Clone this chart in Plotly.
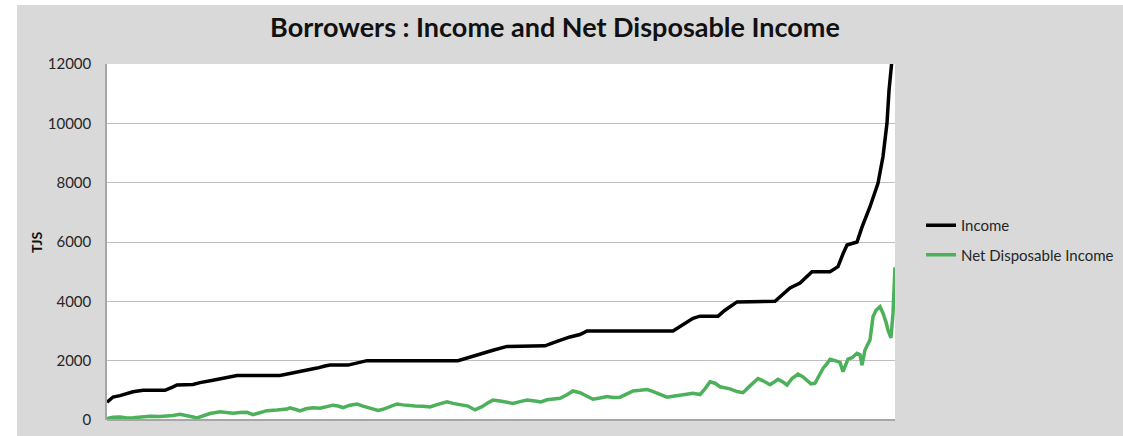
import plotly.graph_objects as go

# Borrowers sorted by income; rank is the borrower's position in that order.
income_rank = [0, 3, 6, 13, 20, 26, 36, 58, 65, 70, 86, 93, 106, 118, 126, 130,
               173, 183, 193, 203, 210, 218, 223, 241, 251, 260, 351, 361, 373,
               386, 400, 438, 450, 463, 473, 480, 566, 576, 586, 593, 611, 618,
               630, 668, 675, 683, 693, 699, 705, 723, 731, 736, 740, 750, 755,
               763, 771, 776, 780, 782, 785, 788]
income = [600, 700, 775, 820, 880, 950, 1000, 1000, 1100, 1180, 1200, 1260,
          1340, 1420, 1490, 1500, 1500, 1560, 1620, 1700, 1750, 1820, 1850,
          1850, 1930, 2000, 2000, 2100, 2250, 2350, 2480, 2500, 2650, 2800,
          2880, 3000, 3000, 3200, 3430, 3500, 3500, 3700, 3980, 4000, 4200,
          4450, 4620, 4800, 5000, 5000, 5170, 5600, 5900, 6000, 6500, 7190,
          7980, 8880, 10010, 11100, 12000, 13200]

net_rank = [0, 6, 13, 20, 26, 33, 43, 53, 60, 66, 73, 80, 85, 90, 96, 103,
            113, 120, 126, 133, 140, 146, 153, 160, 170, 180, 183, 188, 193,
            199, 206, 213, 220, 226, 231, 236, 243, 250, 256, 261, 266, 271,
            276, 283, 290, 296, 303, 308, 316, 323, 330, 336, 340, 346, 353,
            361, 368, 375, 381, 386, 393, 400, 406, 413, 420, 428, 434, 440,
            446, 453, 460, 466, 473, 480, 486, 493, 500, 506, 513, 520, 526,
            533, 540, 545, 550, 555, 560, 566, 573, 580, 586, 593, 598, 603,
            608, 613, 618, 623, 630, 636, 643, 648, 651, 656, 663, 668, 671,
            676, 680, 685, 691, 696, 700, 704, 708, 713, 716, 720, 723, 728,
            733, 736, 739, 741, 745, 750, 753, 755, 758, 761, 763, 766, 769,
            773, 776, 779, 781, 784, 786, 788]
net_income = [50, 90, 100, 70, 80, 110, 130, 120, 130, 150, 190, 160, 110, 70,
              150, 220, 280, 250, 230, 250, 260, 180, 250, 315, 337, 370, 410,
              350, 310, 380, 410, 395, 450, 500, 470, 420, 500, 540, 470, 420,
              340, 320, 360, 450, 540, 510, 470, 470, 460, 440, 520, 560, 610,
              560, 505, 470, 340, 450, 580, 670, 640, 600, 560, 620, 670, 640,
              610, 680, 700, 730, 850, 980, 920, 790, 700, 740, 790, 760, 770,
              880, 980, 1000, 1030, 970, 900, 820, 770, 800, 840, 870, 900,
              860, 1050, 1290, 1240, 1120, 1100, 1050, 960, 920, 1150, 1300,
              1400, 1320, 1190, 1300, 1370, 1280, 1180, 1400, 1550, 1450, 1320,
              1220, 1240, 1550, 1740, 1900, 2050, 2000, 1940, 1630, 1900, 2050,
              2100, 2250, 2200, 1850, 2360, 2600, 2700, 3480, 3700, 3820, 3600,
              3300, 3030, 2770, 3600, 5150]

y_ticks = [0, 2000, 4000, 6000, 8000, 10000, 12000]
y_tick_labels = ["0", "2000", "4000", "6000", "8000", "10000", "12000"]

FONT = "Lato"
W, H = 1123, 436
ML, MR, MT, MB = 107, 228, 64, 16
PW, PH = W - ML - MR, H - MT - MB


def px_x(p):
    return (p - ML) / PW


def px_y(p):
    return (H - MB - p) / PH


fig = go.Figure()
fig.add_trace(go.Scatter(
    x=income_rank, y=income, mode="lines", name="Income",
    line=dict(color="#000000", width=3.5), legendgroup="a"))
fig.add_trace(go.Scatter(
    x=net_rank, y=net_income, mode="lines", name="Net Disposable Income",
    line=dict(color="#4DB05B", width=3.5), legendgroup="b"))

fig.update_layout(
    width=W, height=H,
    margin=dict(l=ML, r=MR, t=MT, b=MB, autoexpand=False),
    paper_bgcolor="white",
    plot_bgcolor="white",
    font=dict(family=FONT, color="#262626"),
    title=dict(text="<b>Borrowers : Income and Net Disposable Income</b>",
               x=555 / W, xanchor="center", y=1 - 28 / H,
               yanchor="middle", font=dict(size=27, color="#111111")),
    xaxis=dict(range=[0, 788], showticklabels=False, showgrid=False,
               zeroline=False, showline=False, ticks=""),
    yaxis=dict(range=[0, 12000], tickvals=y_ticks, ticktext=y_tick_labels,
               showgrid=True, gridcolor="#BFBFBF", gridwidth=1,
               zeroline=False, showline=True, linecolor="#A6A6A6",
               linewidth=1.5, ticks="", ticklabelstandoff=11,
               tickfont=dict(size=15, color="#262626")),
    legend=dict(x=px_x(921), y=px_y(209), xanchor="left", yanchor="top",
                bgcolor="rgba(0,0,0,0)", traceorder="grouped",
                tracegroupgap=7, font=dict(size=15, color="#262626")),
    shapes=[
        # grey chart-area background
        dict(type="rect", xref="paper", yref="paper", layer="below",
             x0=px_x(17), x1=px_x(W), y0=px_y(5), y1=px_y(H),
             fillcolor="#D9D9D9", line=dict(width=0)),
        # white plotting area
        dict(type="rect", xref="paper", yref="paper", layer="below",
             x0=0, x1=1, y0=0, y1=1, fillcolor="white", line=dict(width=0)),
        # category axis line
        dict(type="line", xref="paper", yref="paper", layer="above",
             x0=0, x1=1, y0=0, y1=0, line=dict(color="#A6A6A6", width=2)),
    ],
    annotations=[
        dict(text="<b>TJS</b>", textangle=-90, xref="paper", yref="paper",
             x=px_x(36), y=0.5, showarrow=False, xanchor="center",
             yanchor="middle", font=dict(size=14, color="#111111")),
    ],
)

fig.write_html("out.html")
